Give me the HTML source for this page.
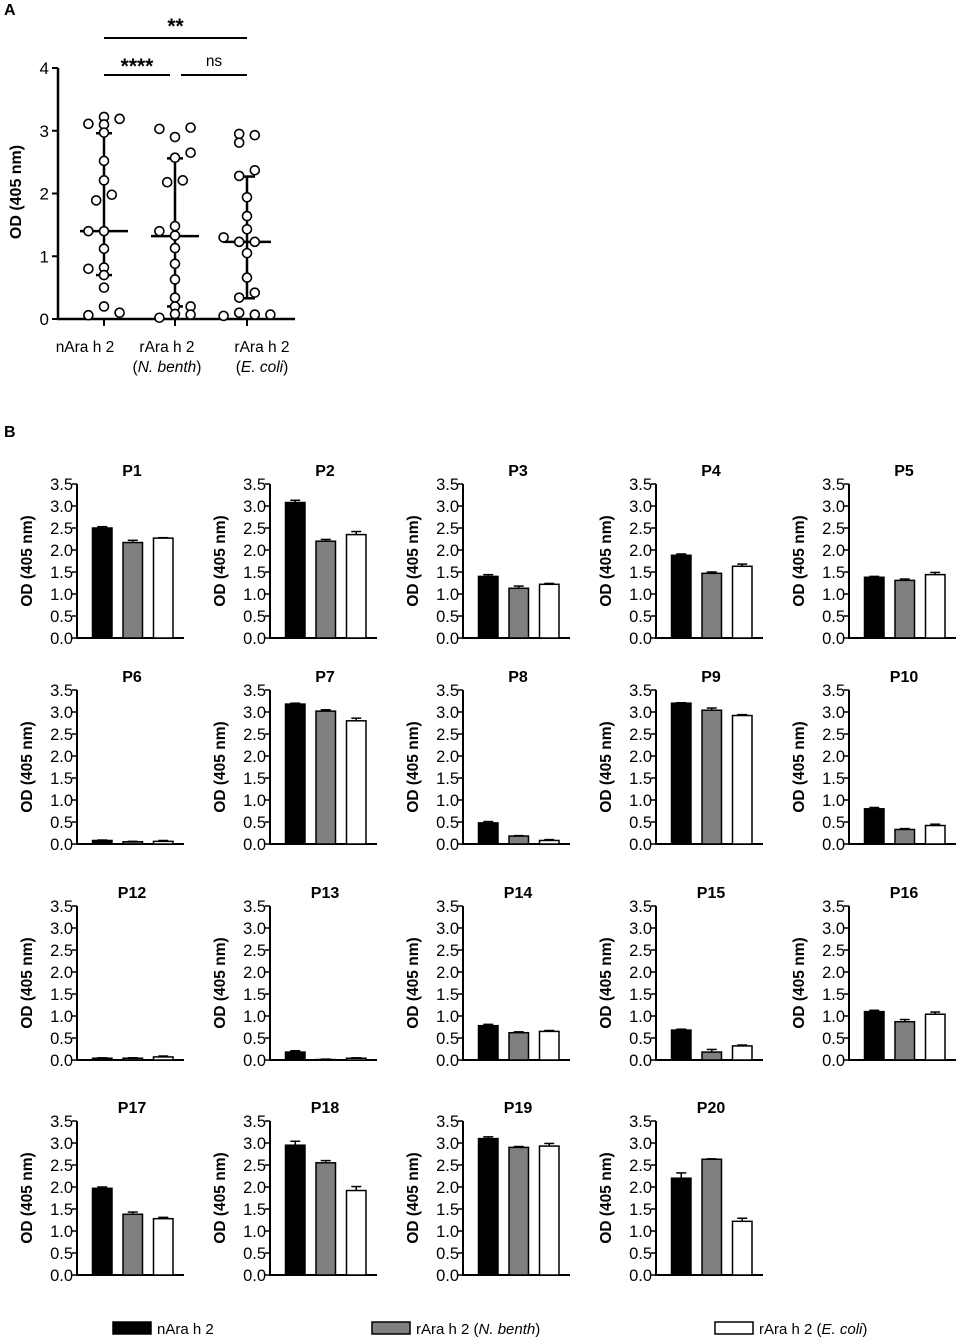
<!DOCTYPE html>
<html><head><meta charset="utf-8"><style>
html,body{margin:0;padding:0;background:#fff;}
svg{display:block;font-family:"Liberation Sans",Arial,sans-serif;}
</style></head><body>
<svg id="fig" width="959" height="1339" viewBox="0 0 959 1339" xmlns="http://www.w3.org/2000/svg"></svg>
<script>
// ---------- Panel A data ----------
const groupLabels = ["nAra h 2","rAra h 2","rAra h 2"];
const groupSub = ["","N. benth","E. coli"];
const g1Values = [3.11,3.22,3.19,3.10,2.97,2.52,2.21,1.89,1.98,1.40,1.40,1.12,0.80,0.82,0.70,0.50,0.20,0.06,0.10];
const g1Jitter = [-2,0,2,0,0,0,0,-1,1,-2,0,0,-2,0,0,0,0,-2,2];
const g2Values = [3.03,2.90,3.05,2.65,2.57,2.18,2.21,1.40,1.48,1.33,1.13,0.88,0.63,0.34,0.20,0.20,0.08,0.07,0.02];
const g2Jitter = [-2,0,2,2,0,-1,1,-2,0,0,0,0,0,0,0,2,0,2,-2];
const g3Values = [2.95,2.81,2.93,2.28,2.37,1.94,1.64,1.43,1.30,1.23,1.23,1.05,0.66,0.34,0.42,0.05,0.10,0.07,0.07];
const g3Jitter = [-1,-1,1,-1,1,0,0,0,-3,-1,1,0,0,-1,1,-3,-1,1,3];
const medians = [1.40,1.32,1.23];
const q1s = [0.70,0.20,0.33];
const q3s = [2.96,2.56,2.27];
const aTicks = [0,1,2,3,4];

// ---------- Panel B data ----------
const patients = ["P1","P2","P3","P4","P5","P6","P7","P8","P9","P10","P12","P13","P14","P15","P16","P17","P18","P19","P20"];
const nAra = [2.50,3.08,1.40,1.88,1.38,0.08,3.18,0.48,3.20,0.80,0.04,0.18,0.78,0.68,1.10,1.97,2.95,3.10,2.20];
const rAraN = [2.17,2.20,1.13,1.47,1.31,0.05,3.02,0.18,3.04,0.33,0.04,0.01,0.62,0.18,0.87,1.38,2.55,2.90,2.63];
const rAraE = [2.27,2.35,1.22,1.63,1.44,0.06,2.80,0.08,2.92,0.42,0.07,0.04,0.65,0.32,1.04,1.28,1.92,2.93,1.22];
const nAraErr = [0.03,0.05,0.04,0.03,0.02,0.01,0.02,0.03,0.01,0.03,0.01,0.03,0.03,0.02,0.03,0.03,0.09,0.04,0.12];
const rAraNErr = [0.05,0.04,0.05,0.03,0.03,0.01,0.03,0.01,0.05,0.02,0.01,0.01,0.02,0.06,0.05,0.05,0.05,0.02,0.01];
const rAraEErr = [0.01,0.07,0.02,0.05,0.05,0.02,0.06,0.02,0.02,0.03,0.02,0.01,0.02,0.02,0.05,0.03,0.09,0.06,0.07];
const bTicks = ["0.0","0.5","1.0","1.5","2.0","2.5","3.0","3.5"];
const seriesNames = ["nAra h 2","rAra h 2 (N. benth)","rAra h 2 (E. coli)"];

const NS="http://www.w3.org/2000/svg";
const svg=document.getElementById('fig');
function mk(tag,attrs,parent,text){const e=document.createElementNS(NS,tag);for(const k in attrs)e.setAttribute(k,attrs[k]);if(text!==undefined)e.textContent=text;(parent||svg).appendChild(e);return e;}

// ---------- Panel A ----------
const aX0=58,aX1=295,aY0=319,aY1=68;
const aY=v=>aY0-(v/4)*(aY0-aY1);
const aCenters=[104,175,247];
const gA=mk('g',{});


let t=mk('text',{x:4,y:15,'font-size':16,'font-weight':'bold'},gA,'A');

mk('line',{x1:aX0,y1:aY1,x2:aX0,y2:aY0+1,stroke:'#000','stroke-width':2.5},gA);
mk('line',{x1:aX0-1,y1:aY0,x2:aX1,y2:aY0,stroke:'#000','stroke-width':2.5},gA);
aTicks.forEach(v=>{
  mk('line',{x1:aX0-6,y1:aY(v),x2:aX0,y2:aY(v),stroke:'#000','stroke-width':2},gA);
  const tt=mk('text',{x:aX0-9,y:aY(v)+6,'font-size':17,'text-anchor':'end'},gA,String(v));
  
});
aCenters.forEach(c=>mk('line',{x1:c,y1:aY0,x2:c,y2:aY0+7,stroke:'#000','stroke-width':2},gA));
t=mk('text',{transform:'translate(21,192) rotate(-90)','font-size':16,'font-weight':'bold','text-anchor':'middle'},gA,'OD (405 nm)');

const labX=[85,167,262];
groupLabels.forEach((l,i)=>{
  const e=mk('text',{x:labX[i],y:352,'font-size':15.5,'text-anchor':'middle'},gA,l);
  
  if(groupSub[i]){const s=mk('text',{x:labX[i],y:372,'font-size':15.5,'text-anchor':'middle'},gA);
    mk('tspan',{},s,'(');mk('tspan',{'font-style':'italic'},s,groupSub[i]);mk('tspan',{},s,')');
    }
});
// significance
[[aCenters[0],aCenters[2],38,'**',26],[aCenters[0],170,75,'****',66],[181,aCenters[2],75,'ns',66]].forEach(s=>{
  mk('line',{x1:s[0],y1:s[2],x2:s[1],y2:s[2],stroke:'#000','stroke-width':2},gA);
  const e=mk('text',{x:(s[0]+s[1])/2,y:s[4]+(s[3]=='ns'?0:7),'font-size':s[3]=='ns'?15.5:21,'font-weight':s[3]=='ns'?'normal':'bold','text-anchor':'middle'},gA,s[3]);
  
});
const groupsV=[g1Values,g2Values,g3Values],groupsJ=[g1Jitter,g2Jitter,g3Jitter];
groupsV.forEach((vals,gi)=>{
  const c=aCenters[gi];
  mk('line',{x1:c,y1:aY(q1s[gi]),x2:c,y2:aY(q3s[gi]),stroke:'#000','stroke-width':2.5},gA);
  [q1s[gi],q3s[gi]].forEach(q=>mk('line',{x1:c-8,y1:aY(q),x2:c+8,y2:aY(q),stroke:'#000','stroke-width':2.5},gA));
  mk('line',{x1:c-24,y1:aY(medians[gi]),x2:c+24,y2:aY(medians[gi]),stroke:'#000','stroke-width':2.5},gA);
  vals.forEach((v,i)=>{
    const p=mk('circle',{cx:c+groupsJ[gi][i]*7.8,cy:aY(v),r:4.5,fill:'#fff',stroke:'#000','stroke-width':1.6},gA);
    
  });
});

// ---------- Panel B ----------
t=mk('text',{x:4,y:437,'font-size':16,'font-weight':'bold'},svg,'B');

const colX=[77,270,463,656,849];
const rowZero=[638,844,1060,1275];
const H=154, barW=19.5, fills=['#000','#808080','#fff'];
patients.forEach((p,i)=>{
  const col=i%5,row=Math.floor(i/5);
  const ax=colX[col],y0=rowZero[row];
  const yS=v=>y0-(v/3.5)*H;
  const g=mk('g',{});
  
  
  const tt=mk('text',{x:ax+55,y:y0-H-8,'font-size':16,'font-weight':'bold','text-anchor':'middle'},g,p);
  
  mk('line',{x1:ax,y1:y0-H,x2:ax,y2:y0+1,stroke:'#000','stroke-width':2},g);
  mk('line',{x1:ax-1,y1:y0,x2:ax+107,y2:y0,stroke:'#000','stroke-width':2},g);
  bTicks.forEach(l=>{const v=parseFloat(l);
    mk('line',{x1:ax-5,y1:yS(v),x2:ax,y2:yS(v),stroke:'#000','stroke-width':1.5},g);
    const e=mk('text',{x:ax-4,y:yS(v)+6,'font-size':16.5,'text-anchor':'end'},g,l);
    
  });
  const yt=mk('text',{transform:`translate(${ax-45},${y0-H/2}) rotate(-90)`,'font-size':15.5,'font-weight':'bold','text-anchor':'middle'},g,'OD (405 nm)');
  
  [[nAra,nAraErr],[rAraN,rAraNErr],[rAraE,rAraEErr]].forEach((s,si)=>{
    const v=s[0][i],e=s[1][i];const bx=ax+15.5+si*30.5;
    const cx=bx+barW/2;
    mk('line',{x1:cx,y1:yS(v),x2:cx,y2:yS(v+e),stroke:'#000','stroke-width':1.5},g);
    mk('line',{x1:cx-5,y1:yS(v+e),x2:cx+5,y2:yS(v+e),stroke:'#000','stroke-width':1.5},g);
    const r=mk('rect',{x:bx,y:yS(v),width:barW,height:Math.max(0,y0-yS(v)),fill:fills[si],stroke:'#000','stroke-width':1.5},g);
    
  });
});
// legend
const legX=[113,372,715];
seriesNames.forEach((n,i)=>{
  const g=mk('g',{});
  
  
  mk('rect',{x:legX[i],y:1322,width:38,height:12,fill:fills[i],stroke:'#000','stroke-width':1.5},g);
  const e=mk('text',{x:legX[i]+44,y:1334,'font-size':15},g);
  const m=n.match(/^(.*\()(.*)(\))$/);
  if(m){mk('tspan',{},e,m[1]);mk('tspan',{'font-style':'italic'},e,m[2]);mk('tspan',{},e,m[3]);}else e.textContent=n;
});
</script>
</body></html>
